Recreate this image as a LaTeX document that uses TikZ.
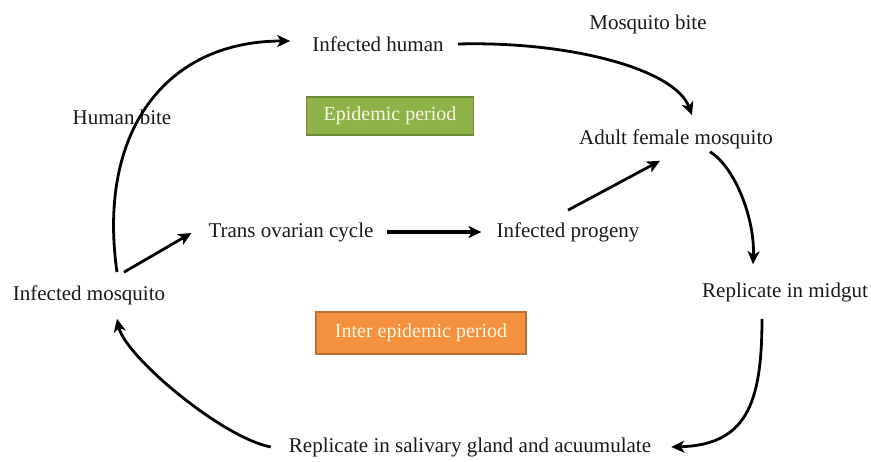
\documentclass[tikz,border=0pt]{standalone}
\usepackage{fontspec}
\setmainfont{Liberation Serif}
\usepackage{xcolor}
\usetikzlibrary{arrows.meta,positioning,calc}
\definecolor{EpiGreen}{RGB}{140,178,72}
\definecolor{EpiGreenD}{RGB}{108,138,58}
\definecolor{InterOrange}{RGB}{244,145,62}
\definecolor{InterOrangeD}{RGB}{188,112,52}
\definecolor{Cream}{RGB}{250,248,228}
\tikzset{
  lbl/.style={inner sep=0pt,font=\fontsize{21}{24}\selectfont,text=black!90},
  period/.style={inner sep=0pt,line width=1.6pt,text=Cream,
                 font=\fontsize{20}{24}\selectfont},
  epibox/.style={period,fill=EpiGreen,draw=EpiGreenD,
                 minimum width=167pt,minimum height=38pt},
  interbox/.style={period,fill=InterOrange,draw=InterOrangeD,
                   minimum width=210pt,minimum height=42pt},
  flow/.style={-{Stealth[length=13pt,width=12pt,inset=3.5pt]},line width=2.8pt,black},
  bigflow/.style={flow,line width=3.8pt},
}

\begin{document}
\begin{tikzpicture}[x=1pt,y=-1pt]
  \useasboundingbox (0,0) rectangle (871,461);

  % stations of the cycle
  \node[lbl] (ihum)   at (378,44)  {Infected human};
  \node[lbl] (bite)   at (648,24)  {Mosquito bite};
  \node[lbl] (hbite)  at (122,117) {Human bite};
  \node[lbl] (adult)  at (676,139) {Adult female mosquito};
  \node[lbl] (trans)  at (291,232) {Trans ovarian cycle};
  \node[lbl] (prog)   at (568,232) {Infected progeny};
  \node[lbl] (imos)   at (89,295)  {Infected mosquito};
  \node[lbl] (midgut) at (785,292) {Replicate in midgut};
  \node[lbl] (saliva) at (470,447) {Replicate in salivary gland and acuumulate};

  % periods
  \node[epibox]   (epi)   at (390,116) {Epidemic period};
  \node[interbox] (inter) at (421,333) {Inter epidemic period};

  % outer cycle
  \draw[flow] ([xshift=28pt,yshift=13pt]imos.north)
      .. controls +(-20,-140) and +(-125,0) .. ([xshift=-22pt,yshift=3pt]ihum.west);
  \draw[flow] ([xshift=14pt]ihum.east)
      .. controls +(112,-3) and +(-17,-46) .. ([xshift=16pt,yshift=14pt]adult.north);
  \draw[flow] ([xshift=34pt,yshift=-3pt]adult.south)
      .. controls +(25,15) and +(2,-45) .. ([xshift=-32pt,yshift=18pt]midgut.north);
  \draw[flow] ([xshift=-23pt,yshift=-17pt]midgut.south)
      .. controls +(0,85) and +(75,-2) .. ([xshift=20pt]saliva.east);
  \draw[flow] ([xshift=-18pt]saliva.west)
      .. controls +(-50,-10) and +(8,37) .. ([xshift=28pt,yshift=-14pt]imos.south);

  % trans ovarian route
  \draw[flow] ([xshift=35pt,yshift=13pt]imos.north) -- ([xshift=-17pt,yshift=-1pt]trans.west);
  \draw[bigflow] ([xshift=13pt]trans.east) -- ([xshift=-15pt]prog.west);
  \draw[flow] ([yshift=12pt]prog.north) -- ([xshift=-16pt,yshift=-12pt]adult.south);

\end{tikzpicture}
\end{document}
